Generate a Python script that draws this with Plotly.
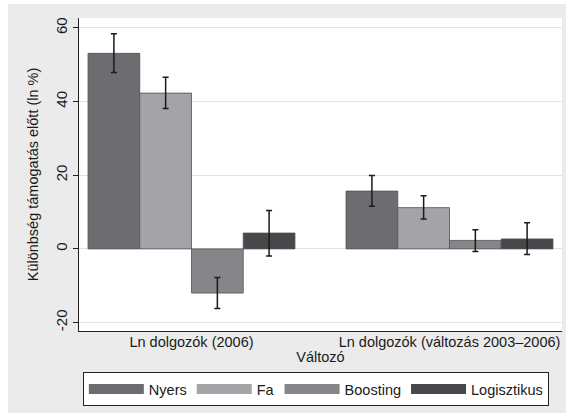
import plotly.graph_objects as go

categories = ["Ln dolgozók (2006)", "Ln dolgozók (változás 2003–2006)"]
series = ["Nyers", "Fa", "Boosting", "Logisztikus"]
values = {
    "Nyers": [53.1, 15.7],
    "Fa": [42.3, 11.2],
    "Boosting": [-12.0, 2.3],
    "Logisztikus": [4.3, 2.7],
}
err_hi = {
    "Nyers": [58.4, 19.9],
    "Fa": [46.6, 14.4],
    "Boosting": [-7.8, 5.2],
    "Logisztikus": [10.4, 7.1],
}
err_lo = {
    "Nyers": [47.9, 11.6],
    "Fa": [38.1, 8.1],
    "Boosting": [-16.2, -0.7],
    "Logisztikus": [-1.9, -1.5],
}
colors = {
    "Nyers": "#6d6d71",
    "Fa": "#a4a4a8",
    "Boosting": "#86868a",
    "Logisztikus": "#48484c",
}
y_ticks = [-20, 0, 20, 40, 60]

xpos = list(range(len(categories)))
fig = go.Figure()
for s in series:
    v = values[s]
    fig.add_trace(go.Bar(
        x=xpos, y=v, name=s, showlegend=False,
        marker=dict(color=colors[s], line=dict(color="#505054", width=0.8)),
        error_y=dict(
            type="data", symmetric=False,
            array=[h - a for h, a in zip(err_hi[s], v)],
            arrayminus=[a - l for l, a in zip(err_lo[s], v)],
            color="#1a1a1a", thickness=1.5, width=3,
        ),
    ))
for s in series:
    fig.add_trace(go.Scatter(
        x=[None], y=[None], mode="lines", name=s,
        line=dict(color=colors[s], width=14),
    ))

fig.update_layout(
    width=566, height=413,
    margin=dict(l=79, r=4, t=18, b=82),
    paper_bgcolor="#ebebeb",
    plot_bgcolor="white",
    barmode="group", bargap=0.198, bargroupgap=0,
    font=dict(family="Liberation Sans, Arial, sans-serif", color="#1a1a1a", size=14),
    xaxis=dict(
        range=[-0.436, 1.436], tickmode="array", tickvals=xpos, ticktext=categories,
        showline=True, linecolor="#222", linewidth=1.2, showgrid=False, zeroline=False,
        ticks="", tickfont=dict(size=14.5), ticklabelstandoff=-3,
        title=dict(text="Változó", font=dict(size=14.5), standoff=1),
    ),
    yaxis=dict(
        range=[-22.3, 62.7], tickmode="array", tickvals=y_ticks,
        ticktext=[str(t) for t in y_ticks], tickangle=-90,
        showline=True, linecolor="#222", linewidth=1.2,
        showgrid=True, gridcolor="#e2e2e2", gridwidth=1,
        zeroline=True, zerolinecolor="#e2e2e2", zerolinewidth=1,
        ticks="outside", ticklen=5, tickcolor="#222", tickfont=dict(size=15),
        title=dict(text="Különbség támogatás előtt (ln %)", font=dict(size=14.5), standoff=10),
    ),
    legend=dict(
        orientation="h", x=0.008, xanchor="left", y=-0.131, yanchor="top",
        bgcolor="white", bordercolor="#222", borderwidth=1,
        font=dict(size=14.5), itemwidth=55, traceorder="normal",
    ),
    shapes=[
        dict(type="rect", xref="paper", yref="paper", x0=-0.2, x1=-0.147, y0=-0.3, y1=1.1,
             fillcolor="white", line=dict(width=0), layer="below"),
        dict(type="rect", xref="paper", yref="paper", x0=-0.2, x1=1.1, y0=1.045, y1=1.1,
             fillcolor="white", line=dict(width=0), layer="below"),
    ],
)

fig.write_html("out.html", config={"displayModeBar": False},
               post_script="document.body.style.margin='0';")
